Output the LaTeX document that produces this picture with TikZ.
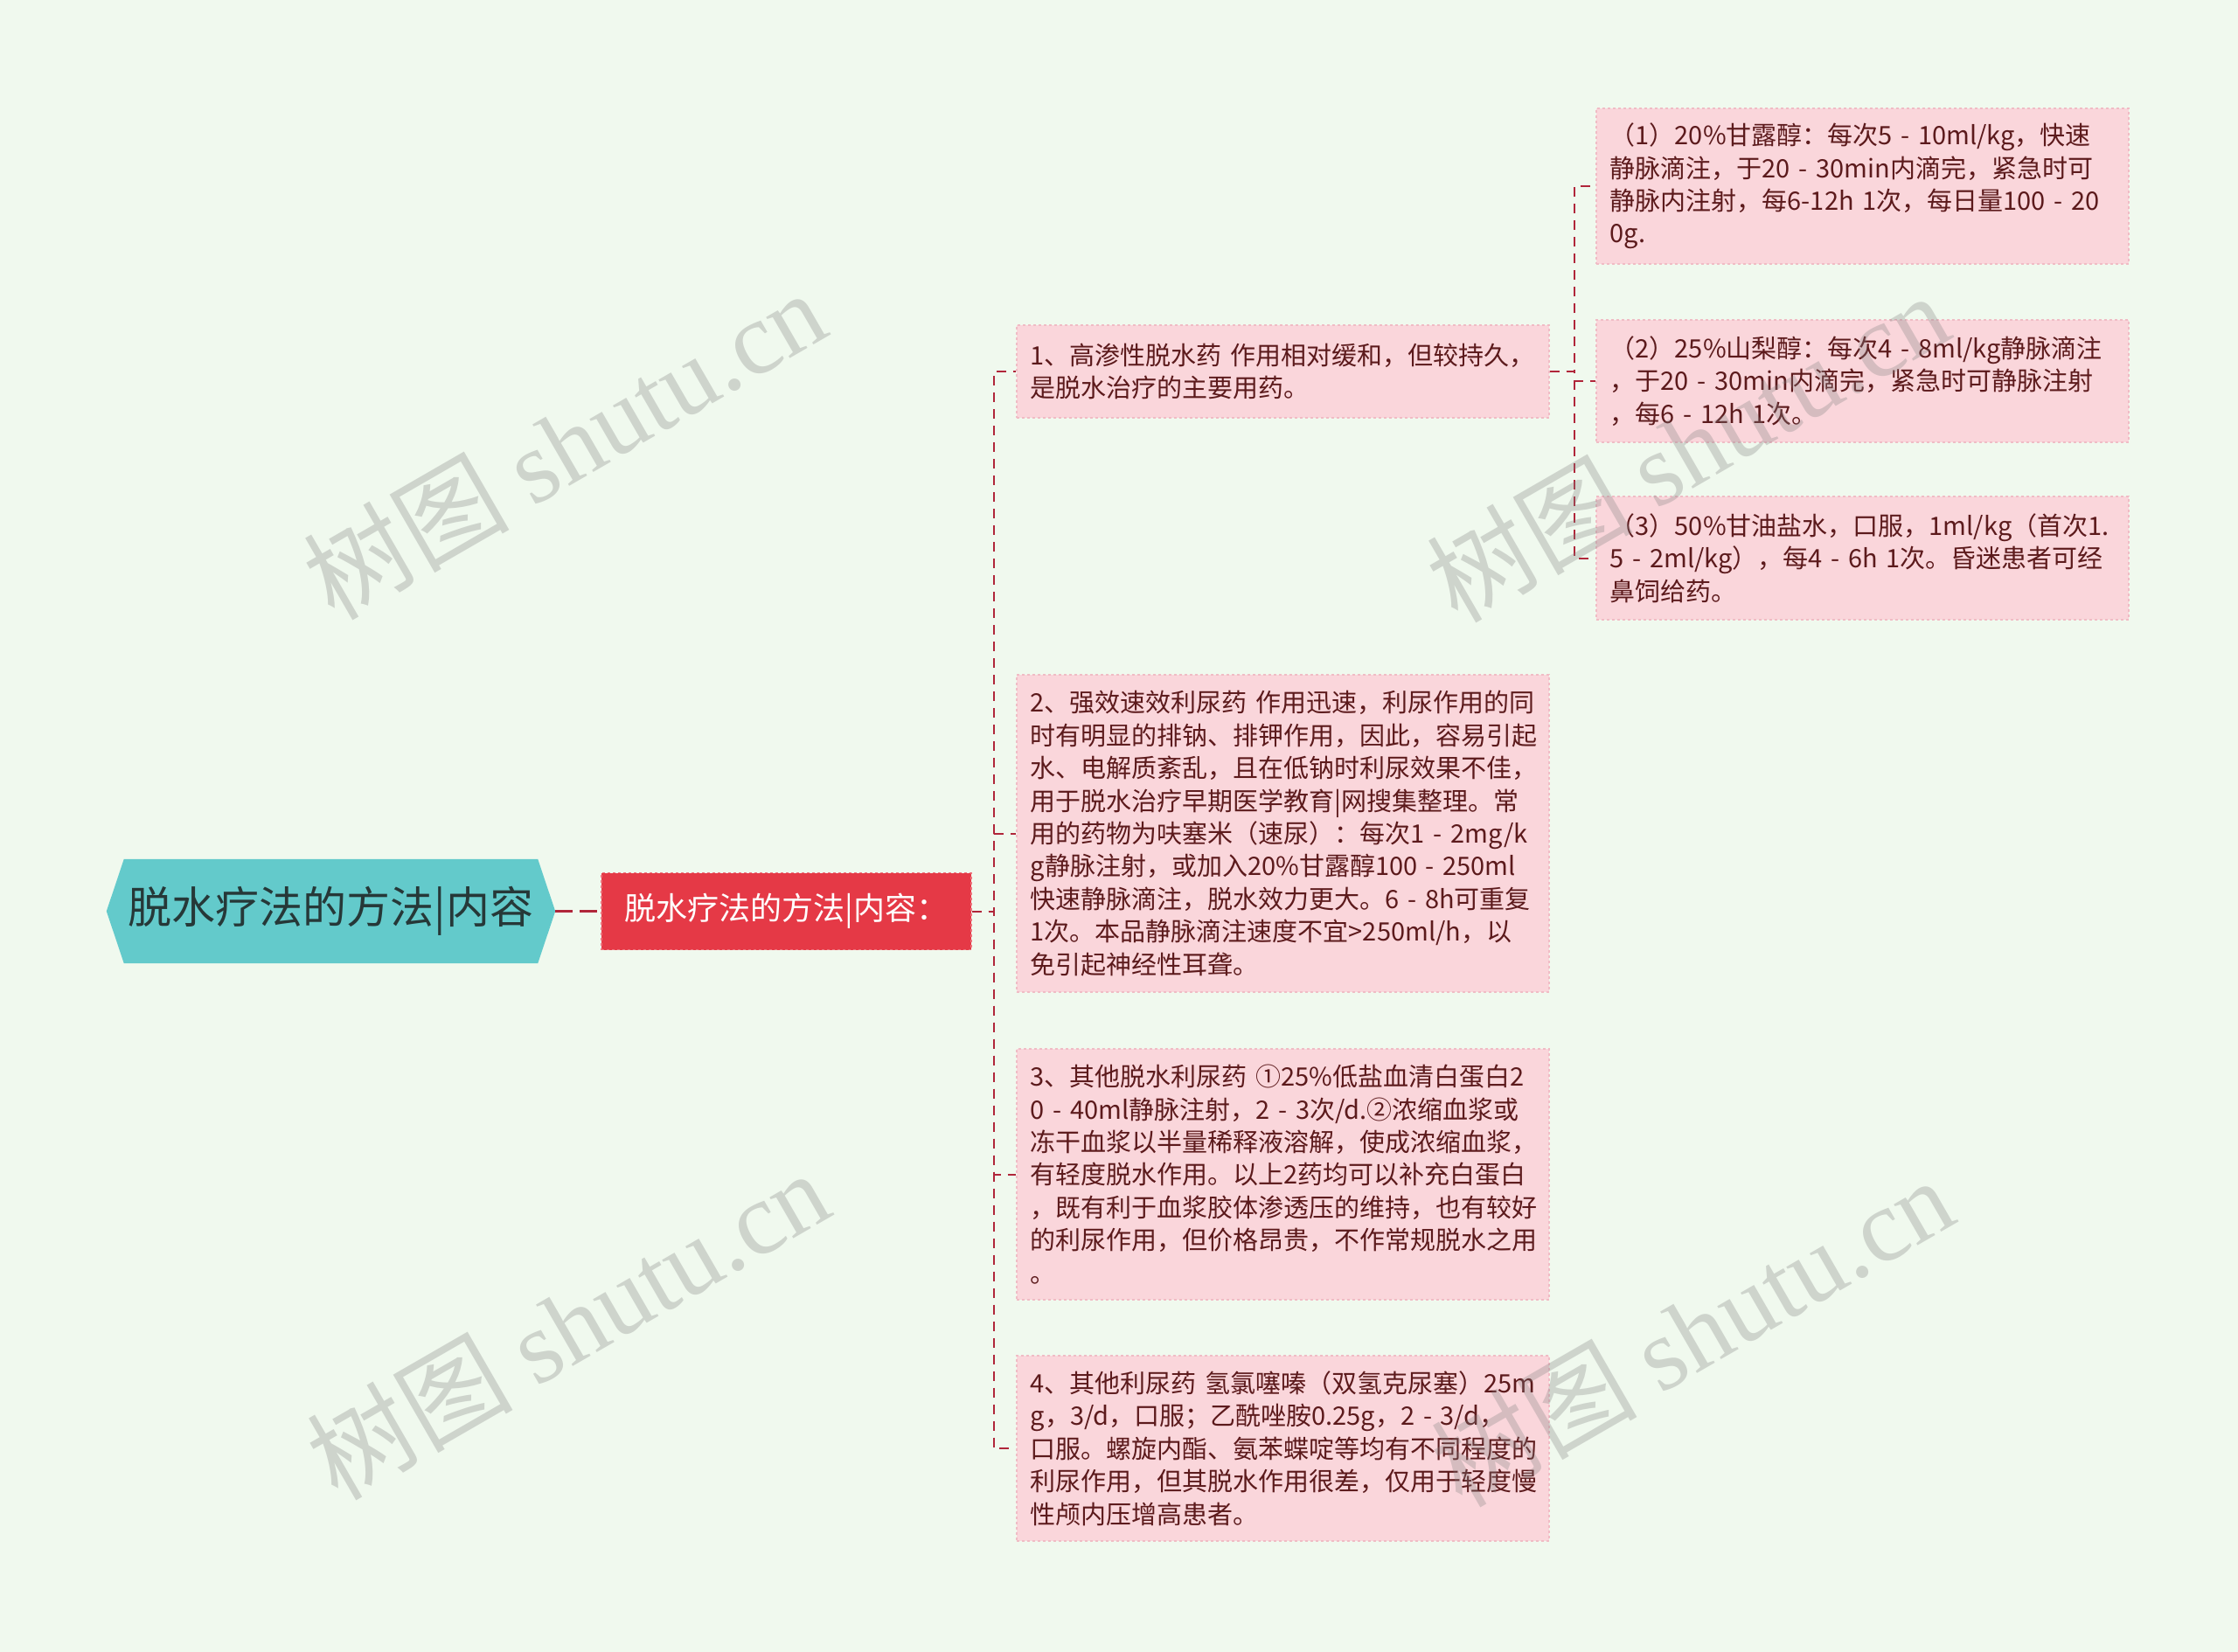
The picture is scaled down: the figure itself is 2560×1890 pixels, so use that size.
\documentclass[tikz,border=0pt]{standalone}
\usepackage{fontspec}
\setmainfont{Noto Sans CJK SC}
\newfontfamily\wmfont{Liberation Serif}
\usetikzlibrary{positioning,backgrounds}

\definecolor{bgmint}{RGB}{240,249,238}
\definecolor{rootfill}{RGB}{99,202,203}
\definecolor{roottext}{RGB}{38,56,56}
\definecolor{keyred}{RGB}{229,57,70}
\definecolor{leaffill}{RGB}{250,214,219}
\definecolor{leafedge}{RGB}{240,188,197}
\definecolor{leaftext}{RGB}{92,26,28}
\definecolor{linkred}{RGB}{176,38,58}

\tikzset{
  rootnode/.style={minimum width=513pt, minimum height=119pt, inner sep=0pt,
    text=roottext, font=\fontsize{50}{60}\selectfont},
  keynode/.style={rectangle, fill=keyred, draw=keyred!70!white, dashed, line width=1.5pt,
    minimum width=423pt, minimum height=88pt, inner sep=0pt, text=white,
    font=\fontsize{36}{44}\selectfont},
  leaf/.style={rectangle, fill=leaffill, draw=leafedge, dashed, line width=1.5pt,
    text=leaftext, text width=577pt, align=left, inner xsep=16pt, inner ysep=6pt,
    anchor=west, font=\fontsize{29}{37.4}\selectfont},
  link/.style={draw=linkred, line width=2pt, dash pattern=on 11pt off 8pt},
  mainlink/.style={draw=linkred, line width=3pt, dash pattern=on 20pt off 8pt},
  wmark/.style={rotate=30, text=black!50, text opacity=0.3, inner sep=0pt,
    font=\fontsize{118}{126}\selectfont}
}

\begin{document}
\begin{tikzpicture}[x=1pt, y=-1pt]
\useasboundingbox (0,0) rectangle (2560,1890);
\begin{scope}[on background layer]
  \fill[bgmint] (0,0) rectangle (2560,1890);
\end{scope}

% root and first level
\node[rootnode] (root) at (378.5,1042.5) {脱水疗法的方法|内容};
\begin{scope}[on background layer]
  \fill[rootfill] ([xshift=20pt]root.north west) -- ([xshift=-20pt]root.north east)
    -- (root.east) -- ([xshift=-20pt]root.south east)
    -- ([xshift=20pt]root.south west) -- (root.west) -- cycle;
\end{scope}
\node[keynode] (key) [right=52pt of root] {脱水疗法的方法|内容：};

% second level
\node[leaf, minimum height=106pt] (b1) at (1162,425) {1、高渗性脱水药~作用相对缓和，但较持久，\\是脱水治疗的主要用药。};
\node[leaf, minimum height=363pt] (b2) at (1162,953.5) {2、强效速效利尿药~作用迅速，利尿作用的同\\时有明显的排钠、排钾作用，因此，容易引起\\水、电解质紊乱，且在低钠时利尿效果不佳，\\用于脱水治疗早期医学教育|网搜集整理。常\\用的药物为呋塞米（速尿）：每次1~-~2mg/k\\g静脉注射，或加入20\%甘露醇100~-~250ml\\快速静脉滴注，脱水效力更大。6~-~8h可重复\\1次。本品静脉滴注速度不宜>250ml/h，以\\免引起神经性耳聋。};
\node[leaf, minimum height=287pt] (b3) at (1162,1343.5) {3、其他脱水利尿药~①25\%低盐血清白蛋白2\\0~-~40ml静脉注射，2~-~3次/d.②浓缩血浆或\\冻干血浆以半量稀释液溶解，使成浓缩血浆，\\有轻度脱水作用。以上2药均可以补充白蛋白\\，既有利于血浆胶体渗透压的维持，也有较好\\的利尿作用，但价格昂贵，不作常规脱水之用\\。};
\node[leaf, minimum height=212pt] (b4) at (1162,1657) {4、其他利尿药~氢氯噻嗪（双氢克尿塞）25m\\g，3/d，口服；乙酰唑胺0.25g，2~-~3/d，\\口服。螺旋内酯、氨苯蝶啶等均有不同程度的\\利尿作用，但其脱水作用很差，仅用于轻度慢\\性颅内压增高患者。};

% third level
\node[leaf, minimum height=178pt] (s1) at (1825,213) {（1）20\%甘露醇：每次5~-~10ml/kg，快速\\静脉滴注，于20~-~30min内滴完，紧急时可\\静脉内注射，每6-12h~1次，每日量100~-~20\\0g.};
\node[leaf, minimum height=140pt] (s2) at (1825,436) {（2）25\%山梨醇：每次4~-~8ml/kg静脉滴注\\，于20~-~30min内滴完，紧急时可静脉注射\\，每6~-~12h~1次。};
\node[leaf, minimum height=141pt] (s3) at (1825,638.5) {（3）50\%甘油盐水，口服，1ml/kg（首次1.\\5~-~2ml/kg），每4~-~6h~1次。昏迷患者可经\\鼻饲给药。};

% connectors
\draw[mainlink] (root.east) -- (key.west);
\foreach \leafname in {b1,b2,b3,b4}
  \draw[link] (key.east) -- ++(25,0) |- (\leafname.west);
\foreach \leafname in {s1,s2,s3}
  \draw[link] (b1.east) -- ++(28,0) |- (\leafname.west);

% watermarks
\node[wmark] (wm1) at (645,508) {树图 {\wmfont shutu.cn}};
\node[wmark] (wm2) at (1930,511) {树图 {\wmfont shutu.cn}};
\node[wmark] (wm3) at (649,1515) {树图 {\wmfont shutu.cn}};
\node[wmark] (wm4) at (1935,1523) {树图 {\wmfont shutu.cn}};
\end{tikzpicture}
\end{document}
